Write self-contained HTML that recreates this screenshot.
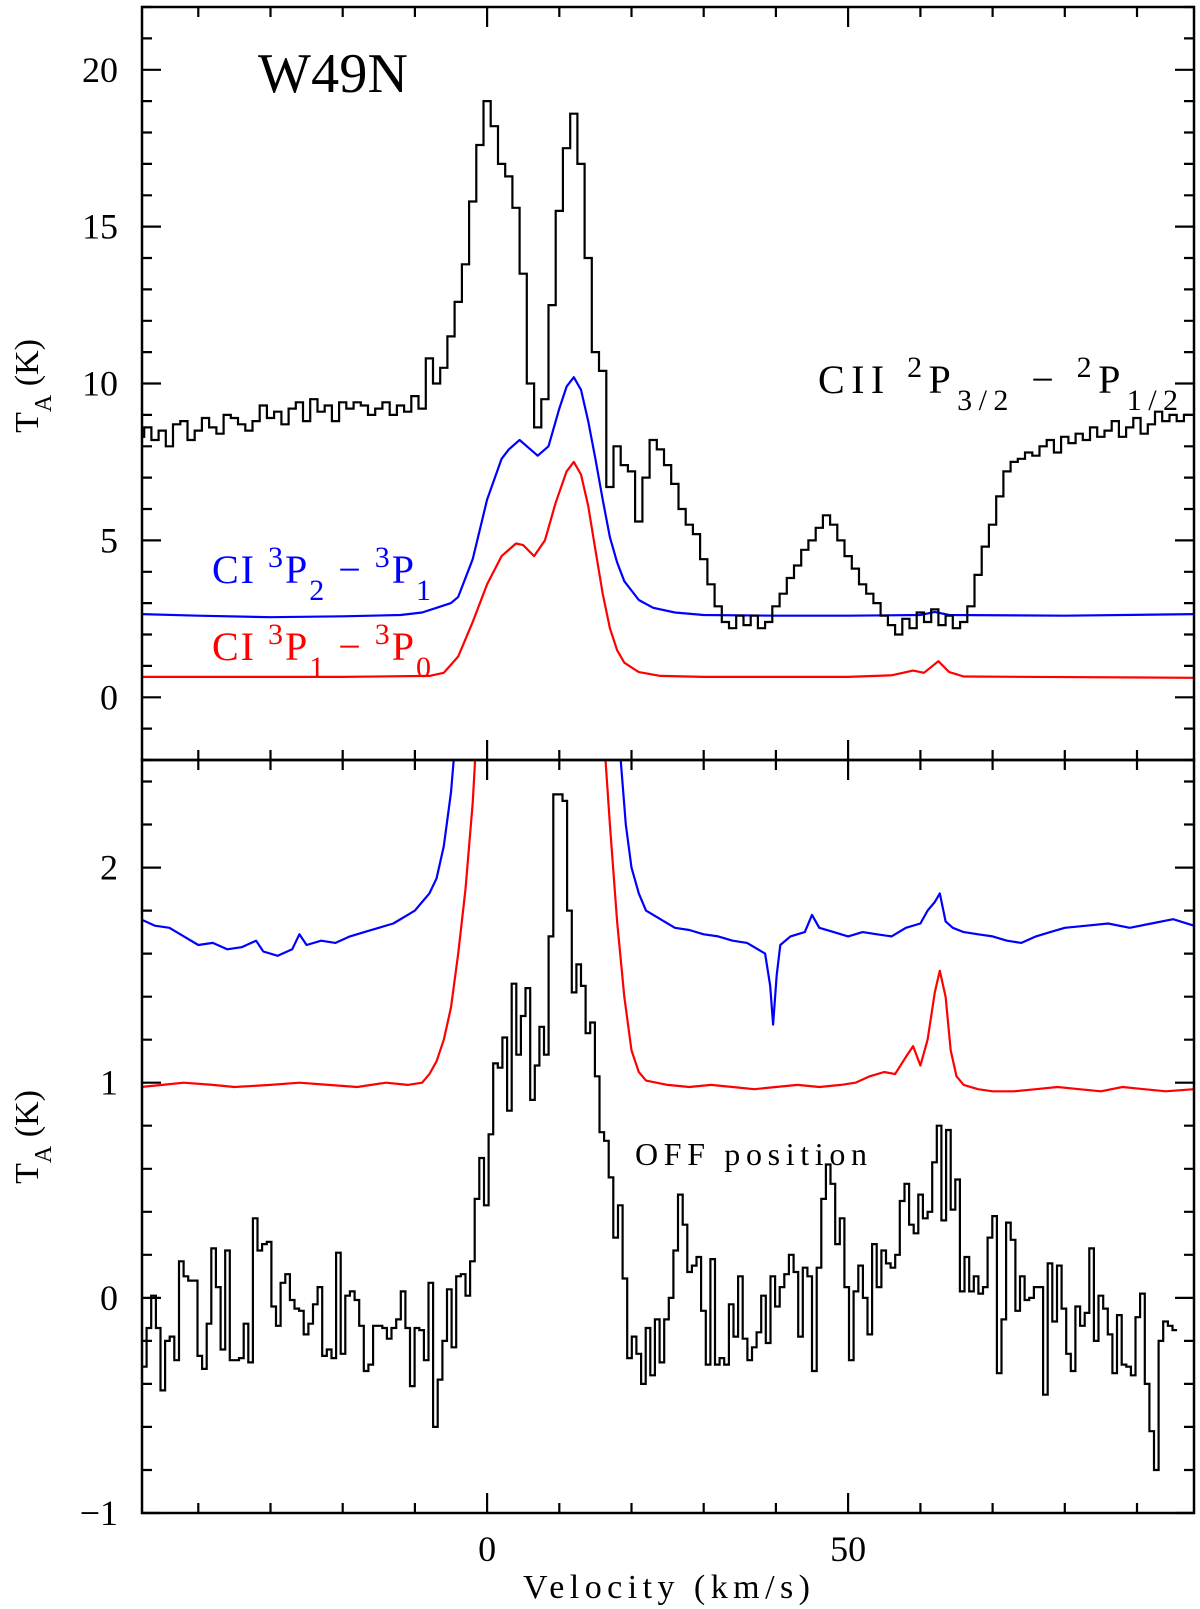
<!DOCTYPE html>
<html><head><meta charset="utf-8"><title>W49N spectra</title>
<style>html,body{margin:0;padding:0;background:#fff}svg{display:block}text{font-family:"Liberation Serif",serif;fill:#000}</style>
</head><body>
<svg id="chart" xmlns="http://www.w3.org/2000/svg" width="1200" height="1609" viewBox="0 0 1200 1609">
<defs>
<clipPath id="clipTop"><rect x="142" y="7" width="1052" height="753"/></clipPath>
<clipPath id="clipBot"><rect x="142" y="760" width="1052" height="753"/></clipPath>
</defs>
<g id="ticks"></g>
<g id="seriesTop" clip-path="url(#clipTop)"></g>
<g id="seriesBot" clip-path="url(#clipBot)"></g>
<rect x="142" y="7" width="1052" height="753" fill="none" stroke="#000" stroke-width="2.5"/>
<rect x="142" y="760" width="1052" height="753" fill="none" stroke="#000" stroke-width="2.5"/>
<g id="labels"></g>
<text x="258" y="92" font-size="56" textLength="150">W49N</text>
<text x="818" y="393" font-size="40" textLength="360" lengthAdjust="spacing">CII <tspan baseline-shift="super" font-size="30">2</tspan>P<tspan baseline-shift="sub" font-size="30">3/2</tspan> − <tspan baseline-shift="super" font-size="30">2</tspan>P<tspan baseline-shift="sub" font-size="30">1/2</tspan></text>
<text x="212" y="583" font-size="40" textLength="219" lengthAdjust="spacing" style="fill:#0000ff">CI <tspan baseline-shift="super" font-size="30">3</tspan>P<tspan baseline-shift="sub" font-size="30">2</tspan> − <tspan baseline-shift="super" font-size="30">3</tspan>P<tspan baseline-shift="sub" font-size="30">1</tspan></text>
<text x="212" y="660" font-size="40" textLength="219" lengthAdjust="spacing" style="fill:#ff0000">CI <tspan baseline-shift="super" font-size="30">3</tspan>P<tspan baseline-shift="sub" font-size="30">1</tspan> − <tspan baseline-shift="super" font-size="30">3</tspan>P<tspan baseline-shift="sub" font-size="30">0</tspan></text>
<text x="635" y="1165" font-size="32" textLength="232">OFF position</text>
<text x="523" y="1598" font-size="34" textLength="287">Velocity (km/s)</text>
<text transform="translate(38,386) rotate(-90)" text-anchor="middle" font-size="34">T<tspan baseline-shift="sub" font-size="24">A</tspan> (K)</text>
<text transform="translate(38,1137) rotate(-90)" text-anchor="middle" font-size="34">T<tspan baseline-shift="sub" font-size="24">A</tspan> (K)</text>
</svg>
<script>
// ---- data ----
const ciiStartV = -48;
const ciiStep = 1;
const ciiT = [8.3,8.6,8.2,8.5,8.0,8.7,8.8,8.2,8.5,8.9,8.6,8.4,9.0,8.9,8.7,8.5,8.8,9.3,8.9,9.1,8.7,9.2,9.4,8.8,9.5,9.1,9.3,8.8,9.4,9.2,9.4,9.3,9.0,9.2,9.4,9.0,9.3,9.1,9.6,9.2,10.8,10.0,10.5,11.5,12.6,13.8,15.8,17.6,19.0,18.2,17.0,16.6,15.6,13.5,10.0,8.6,9.5,12.5,15.5,17.5,18.6,17.0,14.0,11.0,10.4,6.7,8.0,7.4,7.2,5.6,7.0,8.2,7.9,7.4,6.8,6.0,5.5,5.2,4.4,3.6,2.9,2.4,2.2,2.6,2.3,2.6,2.2,2.4,2.9,3.3,3.8,4.2,4.7,5.0,5.4,5.8,5.5,5.0,4.5,4.1,3.6,3.3,3.0,2.6,2.3,2.0,2.5,2.2,2.7,2.4,2.8,2.3,2.6,2.2,2.4,2.9,3.9,4.8,5.5,6.4,7.2,7.5,7.6,7.8,7.7,8.0,8.2,7.8,8.3,8.1,8.4,8.2,8.6,8.3,8.5,8.8,8.3,8.6,8.9,8.4,8.7,9.1,8.8,9.0,8.8,9.0];

const blueTopV = [-48,-40,-30,-20,-12,-9,-7,-5,-4,-2,0,2,3,4.5,6,7,8.5,10,11,12,13,14,15,16,17,18,19,21,23,26,30,40,50,60,62,64,80,98];
const blueTopT = [2.65,2.6,2.55,2.58,2.62,2.7,2.85,3.0,3.2,4.4,6.3,7.6,7.9,8.2,7.9,7.7,8.0,9.2,9.9,10.2,9.8,8.8,7.6,6.3,5.1,4.3,3.7,3.1,2.85,2.7,2.62,2.6,2.6,2.62,2.72,2.62,2.6,2.65];

const redTopV = [-48,-20,-8,-6,-4,-2,0,2,4,5,6.5,8,9.5,11,12,13,14,15,16,17,18,19,21,24,30,50,56,59,60.5,62.5,64,66,98];
const redTopT = [0.65,0.65,0.68,0.78,1.3,2.4,3.6,4.5,4.9,4.85,4.5,5.0,6.2,7.2,7.5,7.1,6.1,4.7,3.3,2.2,1.5,1.1,0.8,0.68,0.65,0.65,0.7,0.85,0.78,1.15,0.8,0.66,0.62];

const blueBotV = [-48,-46,-44,-42,-40,-38,-36,-34,-32,-31,-29,-27,-26,-25,-23,-21,-19,-17,-15,-13,-11,-10,-9,-8,-7,-6,-5,-4.5,-4,18,18.5,19.2,20,21,22,24,26,28,30,32,34,36,37.5,38.5,39.2,39.6,40.1,40.6,42,44,45,46,48,50,52,54,56,58,60,61,62,62.7,63.5,64.5,66,68,70,72,74,76,78,80,83,86,89,92,95,97.9];
const blueBotT = [1.76,1.73,1.72,1.68,1.64,1.65,1.62,1.63,1.66,1.61,1.59,1.62,1.69,1.64,1.66,1.65,1.68,1.7,1.72,1.74,1.78,1.8,1.84,1.88,1.95,2.1,2.35,2.55,3.0,3.0,2.5,2.2,2.0,1.88,1.8,1.76,1.72,1.71,1.69,1.68,1.66,1.65,1.62,1.6,1.45,1.27,1.5,1.64,1.68,1.7,1.78,1.72,1.7,1.68,1.7,1.69,1.68,1.72,1.74,1.8,1.84,1.88,1.75,1.72,1.7,1.69,1.68,1.66,1.65,1.68,1.7,1.72,1.73,1.74,1.72,1.74,1.76,1.73];

const redBotV = [-48,-45,-42,-38,-35,-30,-26,-22,-18,-14,-11,-9,-8,-7,-6,-5,-4,-3,-2,-1.5,-1,16,16.4,17,18,19,20,21,22,25,28,31,34,37,40,43,46,49,51,53,55,56.5,58,59,60,61,62,62.7,63.5,64.2,65,66,68,70,73,76,79,82,85,88,91,94,97.9];
const redBotT = [0.98,0.99,1.0,0.99,0.98,0.99,1.0,0.99,0.98,1.0,0.99,1.0,1.04,1.1,1.2,1.35,1.6,1.9,2.3,2.6,3.0,3.0,2.5,2.2,1.75,1.4,1.15,1.05,1.01,0.99,0.98,0.99,0.98,0.97,0.98,0.99,0.98,0.99,1.0,1.03,1.05,1.04,1.12,1.17,1.08,1.2,1.42,1.52,1.4,1.15,1.03,0.99,0.97,0.96,0.96,0.97,0.98,0.97,0.96,0.98,0.97,0.96,0.97];

const offStartV = -47.8;
const offStep = 0.64;
const offT = [-0.32,-0.14,0.01,-0.14,-0.43,-0.2,-0.18,-0.29,0.17,0.1,0.08,0.08,-0.27,-0.33,-0.12,0.23,0.05,-0.24,0.22,-0.29,-0.29,-0.28,-0.12,-0.3,0.37,0.22,0.25,0.26,-0.04,-0.13,0.07,0.11,-0.01,-0.05,-0.06,-0.17,-0.12,-0.03,0.05,-0.27,-0.24,-0.28,0.21,-0.26,0.01,0.03,-0.01,-0.13,-0.34,-0.31,-0.13,-0.13,-0.14,-0.19,-0.14,-0.1,0.03,-0.14,-0.41,-0.14,-0.15,-0.29,0.07,-0.6,-0.38,-0.2,0.04,-0.23,0.1,0.11,0.01,0.17,0.46,0.65,0.43,0.76,1.09,1.07,1.21,0.87,1.46,1.13,1.31,1.44,0.92,1.08,1.26,1.13,1.68,2.34,2.34,2.31,1.8,1.42,1.55,1.45,1.23,1.28,1.03,0.77,0.73,0.56,0.28,0.43,0.09,-0.28,-0.18,-0.26,-0.4,-0.14,
-0.36,-0.1,-0.3,-0.1,0,0.22,0.48,0.34,0.12,0.15,0.19,-0.06,-0.31,0.18,-0.31,-0.28,-0.31,-0.03,-0.18,0.1,-0.19,-0.29,-0.23,-0.16,0.01,-0.21,0.1,-0.04,0.05,0.11,0.2,0.12,-0.18,0.14,0.1,-0.34,0.14,0.46,0.62,0.53,0.25,0.37,0.05,-0.29,0.03,0.15,0,-0.17,0.25,0.05,0.22,0.16,0.14,0.2,0.45,0.53,0.34,0.3,0.48,0.37,0.4,0.63,0.8,0.36,0.78,0.41,0.55,0.03,0.19,0.03,0.1,0.02,0.05,0.28,0.38,-0.35,-0.1,0.35,0.27,-0.06,0.1,-0.01,0,0.05,0.05,-0.45,0.16,-0.11,0.15,-0.05,-0.26,-0.34,-0.04,-0.13,-0.07,0.23,-0.2,0.01,-0.05,-0.17,-0.35,-0.08,-0.31,-0.32,-0.36,-0.09,0.02,-0.4,-0.62,-0.8,-0.2,-0.11,-0.13,-0.15];

const xTickMajor = [0, 50];
const xTickLabels = ["0", "50"];
const yTopLabels = ["20","15","10","5","0"];
const yTopLabelVals = [20,15,10,5,0];
const yBotLabels = ["2","1","0","−1"];
const yBotLabelVals = [2,1,0,-1];

// ---- axes ----
const X0 = 142, X1 = 1194, YT = 7, YM = 760, YB = 1513;
const VMIN = -47.8, VMAX = 97.9;
function xS(v){ return X0 + (v - VMIN) / (VMAX - VMIN) * (X1 - X0); }
function yTop(t){ return YM - (t - (-2)) / (22 - (-2)) * (YM - YT); }
function yBot(t){ return YB - (t - (-1)) / (2.5 - (-1)) * (YB - YM); }

const NS = "http://www.w3.org/2000/svg";
function mk(tag, attrs, parent){
  const e = document.createElementNS(NS, tag);
  for (const k in attrs) e.setAttribute(k, attrs[k]);
  parent.appendChild(e);
  return e;
}

// ticks
const tg = document.getElementById('ticks');
let td = "";
for (let v = -40; v <= 90; v += 10) {
  const x = xS(v).toFixed(1);
  const L = (v % 50 === 0) ? 20 : 10;
  td += `M${x},${YT}v${L}M${x},${YM - L}v${2*L}M${x},${YB}v${-L}`;
}
for (let t = -2; t <= 22; t += 1) {
  const y = yTop(t).toFixed(1);
  const L = (t % 5 === 0) ? 19 : 10;
  td += `M${X0},${y}h${L}M${X1},${y}h${-L}`;
}
for (let k = -5; k <= 12; k += 1) {
  const t = k * 0.2;
  const y = yBot(t).toFixed(1);
  const L = (k % 5 === 0) ? 19 : 10;
  td += `M${X0},${y}h${L}M${X1},${y}h${-L}`;
}
const tp = mk('path', {d: td, stroke: '#000', 'stroke-width': 2.2, fill: 'none'}, tg);



// labels
const lg = document.getElementById('labels');
xTickMajor.forEach((v, i) => {
  const t = mk('text', {x: xS(v), y: 1561, 'font-size': 36, 'text-anchor': 'middle'}, lg);
  t.textContent = xTickLabels[i];
  
  
});
yTopLabelVals.forEach((v, i) => {
  const t = mk('text', {x: 118, y: yTop(v) + 12, 'font-size': 36, 'text-anchor': 'end'}, lg);
  t.textContent = yTopLabels[i];
  
  
});
yBotLabelVals.forEach((v, i) => {
  const t = mk('text', {x: 118, y: yBot(v) + 12, 'font-size': 36, 'text-anchor': 'end'}, lg);
  t.textContent = yBotLabels[i];
  
  
});

// series
function stepPath(start, step, vals, yf){
  let d = "";
  vals.forEach((t, i) => {
    const xa = xS(start + i*step - (start === ciiStartV ? step/2 : 0));
    const xb = xa + (xS(step) - xS(0));
    const y = yf(t);
    d += (i === 0 ? `M${xa.toFixed(1)},${y.toFixed(1)}` : `V${y.toFixed(1)}`) + `H${xb.toFixed(1)}`;
  });
  return d;
}
function linePath(vs, ts, yf){
  return vs.map((v, i) => (i ? 'L' : 'M') + xS(v).toFixed(1) + ',' + yf(ts[i]).toFixed(1)).join('');
}
const sT = document.getElementById('seriesTop');
const sB = document.getElementById('seriesBot');

const p1 = mk('path', {d: linePath(blueTopV, blueTopT, yTop), stroke: '#0000ff', 'stroke-width': 2.2, fill: 'none', 'stroke-linejoin': 'round'}, sT);


const p2 = mk('path', {d: linePath(redTopV, redTopT, yTop), stroke: '#ff0000', 'stroke-width': 2.2, fill: 'none', 'stroke-linejoin': 'round'}, sT);


const p3 = mk('path', {d: stepPath(ciiStartV, ciiStep, ciiT, yTop), stroke: '#000', 'stroke-width': 2.2, fill: 'none'}, sT);



const p4 = mk('path', {d: linePath(blueBotV, blueBotT, yBot), stroke: '#0000ff', 'stroke-width': 2.2, fill: 'none', 'stroke-linejoin': 'round'}, sB);


const p5 = mk('path', {d: linePath(redBotV, redBotT, yBot), stroke: '#ff0000', 'stroke-width': 2.2, fill: 'none', 'stroke-linejoin': 'round'}, sB);


const p6 = mk('path', {d: stepPath(offStartV, offStep, offT, yBot), stroke: '#000', 'stroke-width': 2.2, fill: 'none'}, sB);


</script>
</body></html>
